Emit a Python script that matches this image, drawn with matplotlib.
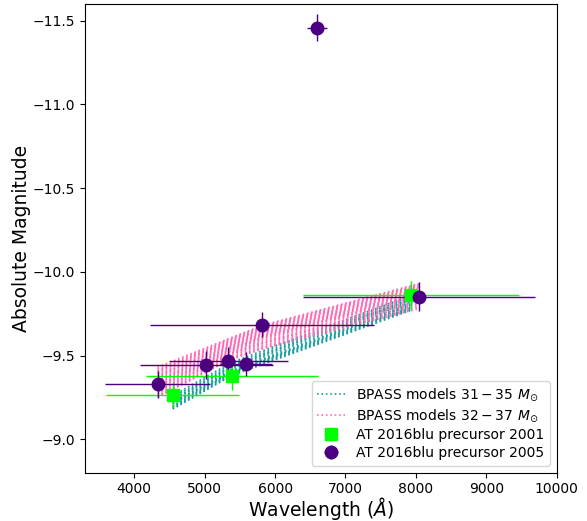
import numpy as np
from matplotlib import pyplot as plt

# AT 2016blu precursor photometry
wl_2001 = [4545, 5385, 7930]
mag_2001 = [-9.265, -9.377, -9.862]
xerr_2001 = [945, 1220, 1528]
yerr_2001 = [0.075, 0.08, 0.085]

wl_2005 = [4330, 5025, 5338, 5582, 5820, 6600, 8044]
mag_2005 = [-9.327, -9.445, -9.468, -9.45, -9.685, -11.458, -9.852]
xerr_2005 = [740, 950, 840, 370, 1590, 140, 1648]
yerr_2005 = [0.08, 0.085, 0.08, 0.07, 0.075, 0.08, 0.085]

# BPASS model magnitudes, 31-35 Msun (at 2001 filters)
wl_teal = [4545, 5385, 7930]
teal_models = [
    [-9.18, -9.38, -9.77],
    [-9.185, -9.385, -9.775],
    [-9.19, -9.39, -9.78],
    [-9.195, -9.395, -9.785],
    [-9.20, -9.40, -9.79],
    [-9.21, -9.40, -9.80],
    [-9.215, -9.405, -9.805],
    [-9.22, -9.41, -9.81],
    [-9.22, -9.42, -9.82],
    [-9.23, -9.43, -9.83],
    [-9.235, -9.435, -9.835],
    [-9.24, -9.44, -9.84],
    [-9.25, -9.45, -9.85],
    [-9.26, -9.46, -9.86],
]

# BPASS model magnitudes, 32-37 Msun (at 2005 filters)
wl_pink = [4330, 5338, 5820, 8044]
pink_models = [
    [-9.43, -9.60, -9.68, -9.93],
    [-9.42, -9.595, -9.675, -9.925],
    [-9.41, -9.59, -9.67, -9.92],
    [-9.405, -9.585, -9.665, -9.915],
    [-9.40, -9.58, -9.66, -9.91],
    [-9.39, -9.575, -9.655, -9.905],
    [-9.38, -9.57, -9.65, -9.90],
    [-9.375, -9.565, -9.645, -9.895],
    [-9.37, -9.56, -9.64, -9.89],
    [-9.36, -9.555, -9.635, -9.885],
    [-9.35, -9.55, -9.63, -9.88],
    [-9.345, -9.545, -9.625, -9.875],
    [-9.34, -9.54, -9.62, -9.87],
    [-9.33, -9.535, -9.615, -9.865],
    [-9.32, -9.53, -9.61, -9.86],
    [-9.315, -9.525, -9.605, -9.855],
    [-9.31, -9.52, -9.60, -9.85],
    [-9.30, -9.515, -9.59, -9.84],
    [-9.29, -9.51, -9.58, -9.83],
    [-9.285, -9.505, -9.575, -9.825],
    [-9.28, -9.50, -9.57, -9.82],
    [-9.27, -9.49, -9.56, -9.81],
    [-9.26, -9.48, -9.55, -9.80],
    [-9.255, -9.475, -9.545, -9.79],
    [-9.25, -9.47, -9.54, -9.78],
]

fig = plt.figure(figsize=(5.87, 5.21), dpi=100)
ax = fig.add_axes([0.1448, 0.0927, 0.8036, 0.8996])

for i, m in enumerate(teal_models):
    ax.plot(wl_teal, m, ':', color='#1a9e9e', lw=1.2,
            label=r'BPASS models $31-35\ M_{\odot}$' if i == 0 else None)
for i, m in enumerate(pink_models):
    ax.plot(wl_pink, m, ':', color='hotpink', lw=1.2,
            label=r'BPASS models $32-37\ M_{\odot}$' if i == 0 else None)

ax.errorbar(wl_2001, mag_2001, xerr=xerr_2001, yerr=yerr_2001, fmt='s',
            color='lime', ms=9, lw=1, label='AT 2016blu precursor 2001')
ax.errorbar(wl_2005, mag_2005, xerr=xerr_2005, yerr=yerr_2005, fmt='o',
            color='indigo', ms=9, lw=1, label='AT 2016blu precursor 2005')

ax.set_xlim(3300, 10000)
ax.set_ylim(-8.8, -11.6)
ax.set_xlabel(r'Wavelength ($\AA$)', fontsize=13.5, labelpad=-1)
ax.set_ylabel('Absolute Magnitude', fontsize=13.5, labelpad=1)
ax.legend(loc='lower right', fontsize=10, labelspacing=0.3)

fig.savefig('out.png', dpi=100)
